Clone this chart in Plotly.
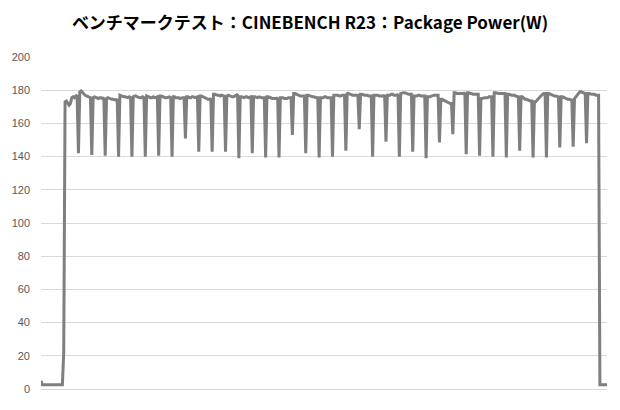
import plotly.graph_objects as go

TITLE = 'ベンチマークテスト：CINEBENCH R23：Package Power(W)'

# idle before the run, then the ramp-up to the first dip
lead_in = [5, 2.5, 2.5, 2.5, 2.5, 2.5, 2.5, 2.5, 2.5, 2.5,
           2.5, 2.5, 2.5, 2.5, 2.5, 2.5, 2.5, 22,
           173, 173.5, 172, 171, 172, 175.5, 176, 175.5, 176.5, 177]

# bottom of each dip between cinebench passes
dips = [142, 141, 140.5, 140, 140, 140, 140.5, 140, 151, 143,
        143, 143, 139, 142, 139.5, 139.5, 153, 142, 139.5, 140,
        143.5, 156.5, 140, 149, 140, 143, 139, 148.5, 153.5, 141.5,
        140.5, 140, 139.5, 143.5, 139.5, 139.5, 145.5, 146, 148]

# steady load after each dip
plateaus = [
    [179, 179.5, 178.5, 177.5, 177, 176.5, 176, 175.5, 175.5],
    [175.5, 176, 175.5, 175, 175, 175.5, 175.5, 175, 175.5],
    [175, 175.5, 175, 175, 174.5, 174.5, 174, 174, 174.5],
    [177, 176.5, 176.5, 176, 176, 175.5, 175.5, 176, 175.5],
    [176, 176.5, 176.5, 176, 175.5, 175.5, 175.5, 176, 175.5],
    [176.5, 176, 175.5, 175.5, 175.5, 176, 175.5, 176, 176],
    [176.5, 176.5, 176, 176, 175.5, 175.5, 176, 176, 175.5],
    [176, 176, 175.5, 175.5, 175.5, 175, 175.5, 175.5, 175.5],
    [176, 176, 175.5, 175.5, 176, 176, 175.5, 176, 176],
    [176.5, 176.5, 176, 176, 175.5, 175, 174.5, 174.5, 175],
    [177.5, 177.5, 177, 177, 177, 176.5, 177, 176.5, 176.5],
    [176.5, 177, 176.5, 176.5, 176, 176, 176.5, 177, 177.5],
    [176, 176, 175.5, 175.5, 176, 176, 175.5, 176, 176],
    [176, 176, 175.5, 175.5, 176, 175.5, 175.5, 175.5, 175.5],
    [176, 176, 175.5, 175.5, 175, 175, 175, 175, 175.5],
    [175.5, 175.5, 175.5, 175, 175, 175, 175.5, 175.5, 175.5],
    [178, 178, 177.5, 177, 176.5, 176.5, 176.5, 176.5, 176.5],
    [177, 177, 176.5, 176.5, 176, 176, 175.5, 175.5, 175.5],
    [175.5, 175.5, 175.5, 176, 176, 175.5, 175.5, 175.5, 175.5],
    [177, 177, 177, 177, 176.5, 176.5, 177, 177, 177],
    [178.5, 178, 177.5, 177.5, 177, 177, 177, 177, 177],
    [177.5, 177.5, 177, 177, 177, 177, 176.5, 176.5, 176.5],
    [177, 177, 177, 177, 176.5, 176.5, 176.5, 176.5, 177],
    [177, 177, 177, 177.5, 177.5, 177, 177, 177, 177.5],
    [178, 178.5, 178.5, 178.5, 178, 178, 177.5, 177.5, 177.5],
    [176.5, 176.5, 176.5, 177, 177, 176.5, 176.5, 176.5, 176.5],
    [176, 176, 176, 176.5, 177, 177, 177, 177, 177],
    [174.5, 174.5, 174, 173.5, 173, 172.5, 172.5, 172, 172],
    [178.5, 178.5, 178, 178, 178, 178, 178, 178, 178.5],
    [178.5, 178.5, 178, 178, 177.5, 177.5, 177.5, 177.5, 177.5],
    [175, 175, 175.5, 175.5, 175.5, 175.5, 176, 176, 176],
    [178.5, 178.5, 178, 178, 178, 178, 178, 178, 178],
    [177.5, 177.5, 177, 177, 177, 177, 176.5, 176, 176],
    [176, 176, 175, 174.5, 174.5, 174, 174, 173.5, 173.5],
    [173, 173, 174, 175, 176, 177, 177.5, 178, 178],
    [178, 178, 177.5, 177, 177, 176.5, 176.5, 176, 176],
    [176, 176, 175.5, 175, 175, 174.5, 174.5, 174, 174],
    [175, 176, 177, 178.5, 179, 179, 178.5, 178, 178],
    [178, 178, 177.5, 177.5, 177.5, 177.5, 177, 177, 177],
]

# idle after the run
tail = [2.5, 2.5, 2.5, 2.5, 2.5, 2.5, 2.5]

power = list(lead_in)
for dip, plateau in zip(dips, plateaus):
    power.append(dip)
    power.extend(plateau)
power.extend(tail)
samples = list(range(len(power)))

fig = go.Figure(
    data=[
        go.Scatter(
            x=samples,
            y=power,
            mode='lines',
            line=dict(
                color='#7f7f7f',
                width=3,
            ),
            hoverinfo='skip',
        ),
    ],
    layout=go.Layout(
        width=620,
        height=410,
        paper_bgcolor='white',
        plot_bgcolor='white',
        showlegend=False,
        margin=dict(l=37, r=13, t=57, b=21),
        title=dict(
            text='<b>' + TITLE + '</b>',
            x=0.5,
            xanchor='center',
            y=0.945,
            yanchor='middle',
            font=dict(family='Noto Sans CJK JP', size=17, color='#000000'),
        ),
        xaxis=dict(
            range=[0, 423.3],
            showticklabels=False,
            showgrid=False,
            zeroline=False,
            showline=False,
            ticks='',
        ),
        yaxis=dict(
            range=[0, 200],
            dtick=20,
            showgrid=True,
            gridcolor='#d9d9d9',
            gridwidth=1,
            zeroline=True,
            zerolinecolor='#d9d9d9',
            zerolinewidth=1,
            showline=False,
            ticks='',
            ticklabelstandoff=10,
            tickfont=dict(family='Liberation Sans', size=11, color='#595959'),
        ),
    ),
)

# the page's default body margin would shift the chart inside the window
fig.write_html(
    'out.html',
    config=dict(displayModeBar=False, staticPlot=True),
    post_script="document.body.style.margin='0';"
                "document.body.style.overflow='hidden';",
)
